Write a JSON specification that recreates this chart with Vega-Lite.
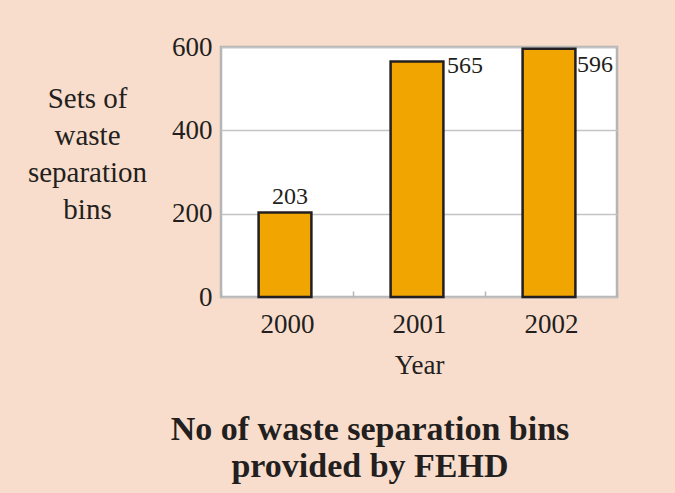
{
  "$schema": "https://vega.github.io/schema/vega-lite/v6.json",
  "autosize": "none",
  "width": 396,
  "height": 250,
  "padding": {"left": 221, "top": 47, "right": 58, "bottom": 196},
  "background": "#F9DDCC",
  "config": {
    "view": {"fill": "#FFFFFF", "stroke": "#B5B5B5", "strokeWidth": 2.5},
    "font": "Liberation Serif",
    "text": {"font": "Liberation Serif", "fontSize": 24, "fill": "#231F20"}
  },
  "title": {
    "text": ["No of waste separation bins", "provided by FEHD"],
    "orient": "bottom",
    "anchor": "middle",
    "frame": "group",
    "font": "Liberation Serif",
    "fontWeight": "bold",
    "fontSize": 34,
    "lineHeight": 37,
    "color": "#231F20",
    "dx": -49,
    "offset": 35
  },
  "data": {
    "values": [
      {"year": "2000", "bins": 203},
      {"year": "2001", "bins": 565},
      {"year": "2002", "bins": 596}
    ]
  },
  "encoding": {
    "x": {
      "field": "year",
      "type": "ordinal",
      "scale": {"paddingInner": 0, "paddingOuter": 0},
      "axis": {
        "title": "Year",
        "titleFont": "Liberation Serif",
        "titleFontSize": 27,
        "titleFontWeight": "normal",
        "titleColor": "#231F20",
        "titleBaseline": "alphabetic",
        "titleY": 76,
        "labelFont": "Liberation Serif",
        "labelFontSize": 27,
        "labelColor": "#231F20",
        "labelAngle": 0,
        "labelBaseline": "top",
        "labelPadding": 20,
        "domain": false,
        "ticks": true,
        "tickBand": "extent",
        "tickSize": -6,
        "tickColor": "#B5B5B5",
        "tickWidth": 1.5
      }
    },
    "y": {
      "field": "bins",
      "type": "quantitative",
      "scale": {"domain": [0, 600], "nice": false},
      "axis": {
        "values": [0, 200, 400, 600],
        "title": ["Sets of", "waste", "separation", "bins"],
        "titleFont": "Liberation Serif",
        "titleFontSize": 29,
        "titleFontWeight": "normal",
        "titleColor": "#231F20",
        "titleAngle": 0,
        "titleAlign": "center",
        "titleBaseline": "alphabetic",
        "titleLineHeight": 37,
        "titleX": -134,
        "titleY": 60,
        "labelFont": "Liberation Serif",
        "labelFontSize": 27,
        "labelColor": "#231F20",
        "labelPadding": 9,
        "labelBaseline": "middle",
        "domain": false,
        "ticks": false,
        "grid": true,
        "gridColor": "#C4C4C4",
        "gridWidth": 1.5
      }
    }
  },
  "layer": [
    {
      "mark": {
        "type": "bar",
        "width": {"band": 0.4},
        "xOffset": -2,
        "fill": "#F0A500",
        "stroke": "#231F20",
        "strokeWidth": 2.5
      }
    },
    {
      "transform": [{"filter": "datum.year === '2000'"}],
      "mark": {"type": "text", "align": "center", "baseline": "alphabetic", "dx": 3, "dy": -8, "fontSize": 24, "fill": "#231F20", "font": "Liberation Serif"},
      "encoding": {"text": {"field": "bins", "type": "quantitative"}}
    },
    {
      "transform": [{"filter": "datum.year === '2001'"}],
      "mark": {"type": "text", "align": "left", "baseline": "alphabetic", "dx": 28, "dy": 11.5, "fontSize": 24, "fill": "#231F20", "font": "Liberation Serif"},
      "encoding": {"text": {"field": "bins", "type": "quantitative"}}
    },
    {
      "transform": [{"filter": "datum.year === '2002'"}],
      "mark": {"type": "text", "align": "left", "baseline": "alphabetic", "dx": 26, "dy": 23, "fontSize": 24, "fill": "#231F20", "font": "Liberation Serif"},
      "encoding": {"text": {"field": "bins", "type": "quantitative"}}
    }
  ]
}
